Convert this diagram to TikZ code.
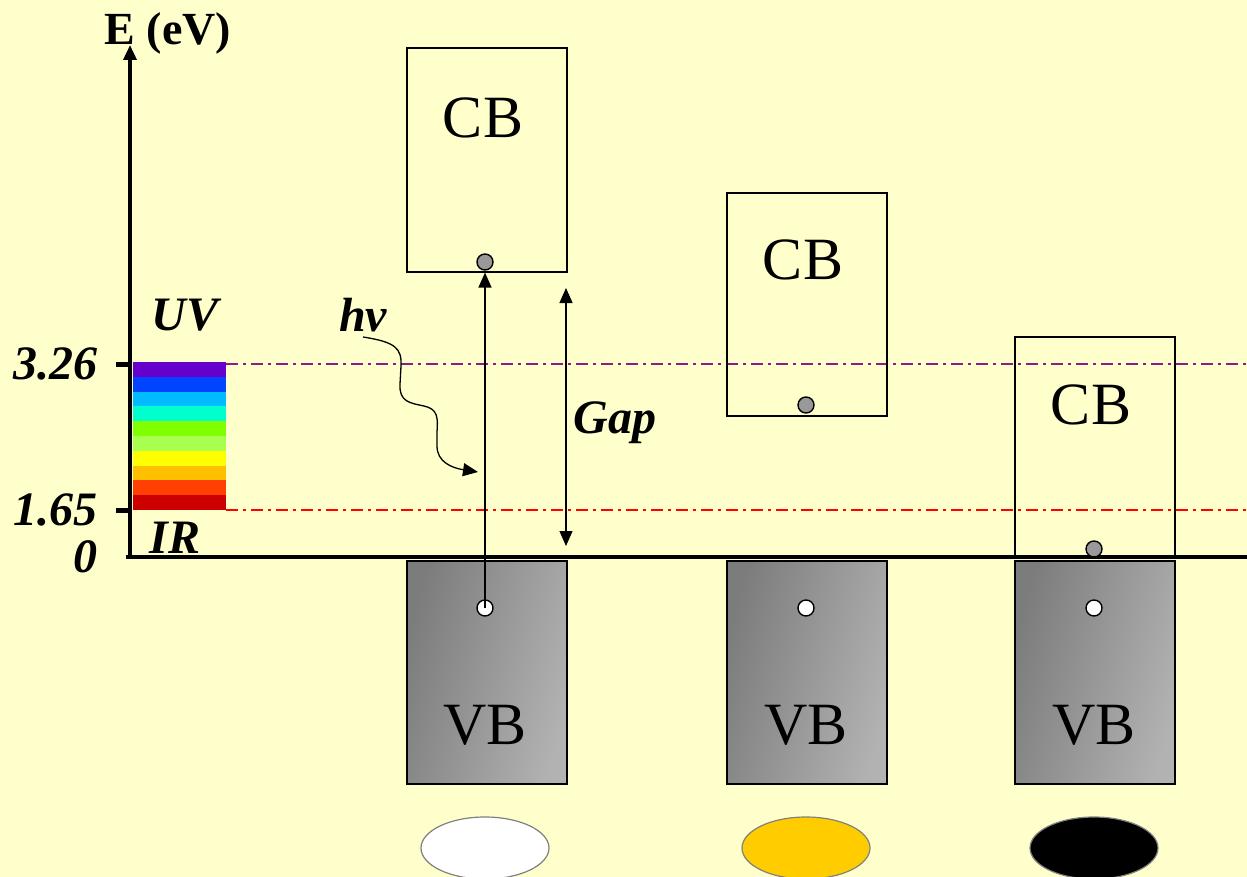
\documentclass[tikz,border=0pt]{standalone}
\usepackage{fontspec}
\setmainfont{Liberation Serif}
\usetikzlibrary{arrows.meta,shapes.geometric}
\definecolor{fondo}{HTML}{FFFFCC}
\definecolor{vboscuro}{HTML}{7C7C7C}
\definecolor{vbclaro}{HTML}{B2B2B2}
\definecolor{lineauv}{HTML}{8E1A8E}
\definecolor{oro}{HTML}{FFCC00}

\begin{document}
\begin{tikzpicture}[x=1pt, y=-1pt,
  every node/.style={inner sep=0pt},
  flecha/.style={-{Triangle[length=15pt,width=13pt]}},
  banda/.style={draw, line width=1.6pt, minimum width=160pt, anchor=north west},
  vbcaja/.style={banda, left color=vboscuro, right color=vbclaro, shading angle=75},
  rotulo/.style={font=\fontsize{60}{60}\selectfont},
  eje/.style={font=\fontsize{48}{48}\selectfont\bfseries\itshape},
  hueco/.style={circle, draw, line width=1.4pt, minimum size=16pt, fill=white},
  electron/.style={hueco, fill=gray!80},
  disco/.style={ellipse, draw=gray, line width=1.2pt, minimum width=128pt, minimum height=62pt}]
\useasboundingbox[fill=fondo] (0,0) rectangle (1247,877);
% espectro visible
\foreach \c [count=\i from 0] in {6600CC,0044FF,00BBFF,00FFCC,80FF00,A8FF50,FFFF00,FFC000,FF4000,CC0000}{
  \definecolor{tono}{HTML}{\c}
  \fill[tono] (133,{362+14.8*\i}) rectangle (226,{362+14.8*(\i+1)});
}
% lineas de referencia
\draw[lineauv, line width=1.5pt, dash pattern=on 12pt off 5pt on 3pt off 5pt] (226,364) -- (1247,364);
\draw[red, line width=1.5pt, dash pattern=on 12pt off 5pt on 3pt off 5pt] (226,510) -- (1247,510);
% cajas de bandas
\node[banda, minimum height=224pt] (cb1) at (406,47) {};
\node[banda, minimum height=223pt] (cb2) at (726,192) {};
\node[banda, minimum height=221pt] (cb3) at (1014,336) {};
\node[vbcaja, minimum height=223pt] (vb1) at (406,560) {};
\node[vbcaja, minimum height=223pt] (vb2) at (726,560) {};
\node[vbcaja, minimum height=223pt] (vb3) at (1014,560) {};
\node[rotulo] (tcb1) at (483,118) {CB};
\node[rotulo] (tcb2) at (803,260) {CB};
\node[rotulo] (tcb3) at (1091,405) {CB};
\node[rotulo] (tvb1) at (485,725) {VB};
\node[rotulo] (tvb2) at (806,725) {VB};
\node[rotulo] (tvb3) at (1094,725) {VB};
% ejes
\coordinate (origen) at (130,557);
\coordinate (tope) at (130,45);
\coordinate (fin) at (1247,557);
\draw[line width=3.5pt, flecha] (origen) -- (tope);
\draw[line width=4.5pt] (126,557) -- (fin);
\draw[line width=5pt] (116,364) -- (131,364);
\draw[line width=5pt] (116,510) -- (131,510);
\node[font=\fontsize{46}{46}\selectfont\bfseries] (titulo) at (168,33) {E (eV)};
\node[eje, anchor=east] (v326) at (98,364) {3.26};
\node[eje, anchor=east] (v165) at (98,510) {1.65};
\node[eje, anchor=east] (v0) at (98,557) {0};
\node[eje] (uv) at (185,315) {UV};
\node[eje] (ir) at (175,538) {IR};
% electrones y huecos
\node[electron] (e1) at (485,262) {};
\node[electron] (e2) at (806,405) {};
\node[electron] (e3) at (1094,549) {};
\node[hueco] (h1) at (485,608) {};
\node[hueco] (h2) at (806,608) {};
\node[hueco] (h3) at (1094,608) {};
% transicion y gap
\draw[line width=1.3pt, flecha] (h1.center) -- (cb1.south -| h1);
\coordinate (gsup) at (566,288);
\coordinate (ginf) at (566,546);
\draw[line width=1.3pt, {Triangle[length=15pt,width=13pt]}-{Triangle[length=15pt,width=13pt]}] (ginf) -- (gsup);
\node[eje] (gap) at (615,423) {Gap};
% foton
\node[eje] (foton) at (363,315) {hν};
\coordinate (impacto) at (478,472);
\draw[line width=1.3pt, flecha] (363,337)
  .. controls (395,342) and (402,348) .. (401,366) -- (400,384)
  .. controls (399,402) and (410,403) .. (424,406)
  .. controls (438,409) and (438,418) .. (437,432) -- (437,446)
  .. controls (437,462) and (452,468) .. (impacto);
% colores del material
\node[disco, fill=white] (blanco) at (485,848) {};
\node[disco, fill=oro] (amarillo) at (806,848) {};
\node[disco, fill=black] (negro) at (1094,848) {};
\end{tikzpicture}
\end{document}
